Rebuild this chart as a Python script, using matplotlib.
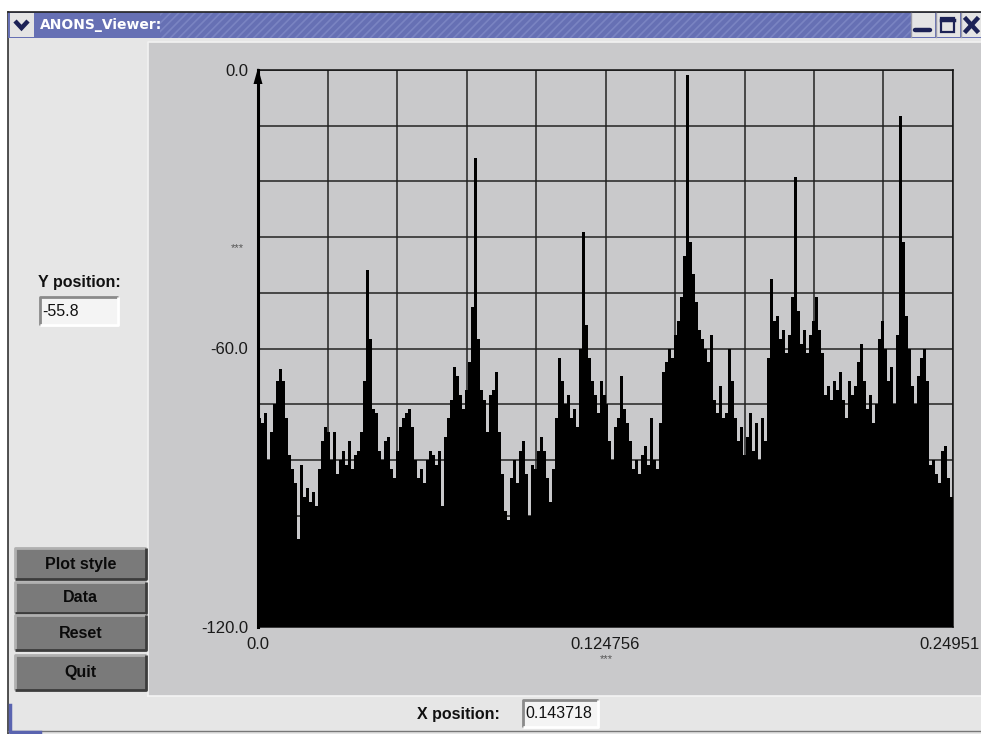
import numpy as np
import matplotlib
matplotlib.use("Agg")
import matplotlib.pyplot as plt
from matplotlib.patches import Rectangle, Polygon

# ---------------- data ----------------
window_title = "ANONS_Viewer:"
x_max = 0.24951
x_tick_labels = ["0.0", "0.124756", "0.24951"]
y_tick_labels = ["0.0", "-60.0", "-120.0"]
y_position_text = "-55.8"
x_position_text = "0.143718"
button_labels = ["Plot style", "Data", "Reset", "Quit"]

# spectrum levels (dB), equally spaced bins from 0 to x_max
levels_db = [
    -75, -76, -74, -84, -78, -72, -67, -64.5, -67, -75,
    -83, -86, -89, -101, -85, -92, -90, -93, -91, -94,
    -86, -80, -77, -78, -84, -78, -87, -84, -82, -85,
    -80, -86, -83, -82, -78, -67, -43, -58, -73, -74,
    -82, -84, -80, -79, -86, -88, -82, -77, -75, -74,
    -73, -77, -84, -88, -86, -89, -84, -82, -83, -85,
    -82, -94, -79, -75, -71, -64, -66, -70, -73, -69,
    -63, -51, -19, -58, -69, -71, -78, -70, -69, -65,
    -78, -87, -95, -97, -88, -84, -89, -82, -80, -87,
    -96, -85, -86, -82, -79, -82, -88, -93, -86, -75,
    -62, -67, -72, -70, -75, -73, -77, -60, -35, -55,
    -62, -67, -70, -74, -67, -70, -72, -80, -84, -77,
    -75, -66, -73, -76, -80, -86, -84, -87, -83, -81,
    -85, -75, -84, -86, -76, -65, -63, -60, -62, -57,
    -54, -49, -40, -1, -37, -44, -50, -56, -58, -60,
    -63, -57, -71, -74, -68, -75, -74, -60, -67, -75,
    -80, -77, -83, -79, -74, -82, -76, -84, -75, -80,
    -62, -45, -54, -53, -58, -56, -61, -57, -49, -23,
    -52, -59, -56, -61, -57, -54, -49, -56, -61, -70,
    -68, -71, -67, -69, -65, -71, -75, -67, -70, -68,
    -63, -59, -67, -73, -70, -76, -72, -58, -54, -60,
    -67, -64, -72, -57, -10, -37, -53, -60, -68, -72,
    -66, -62, -60, -67, -85, -84, -87, -89, -82, -81,
    -88, -92,
]
y_min, y_max = -120.0, 0.0

# ---------------- figure ----------------
W, H = 981, 734
plt.rcParams['font.family'] = ['Liberation Sans', 'DejaVu Sans']
plt.rcParams['hatch.color'] = '#7a84c2'
plt.rcParams['hatch.linewidth'] = 1.2
fig = plt.figure(figsize=(W / 100, H / 100), dpi=100)

bg = fig.add_axes([0, 0, 1, 1])
bg.set_xlim(0, W)
bg.set_ylim(H, 0)
bg.axis('off')

def rect(x, y, w, h, fc, ec='none', lw=0, z=1, **kw):
    r = Rectangle((x, y), w, h, facecolor=fc, edgecolor=ec, linewidth=lw, zorder=z, **kw)
    bg.add_patch(r)
    return r

def bevel(x, y, w, h, light, dark, lw=1.5, z=3, sunken=False):
    a, b = (dark, light) if sunken else (light, dark)
    bg.plot([x, x, x + w], [y + h, y, y], color=a, lw=lw, zorder=z, solid_capstyle='butt')
    bg.plot([x, x + w, x + w], [y + h, y + h, y], color=b, lw=lw, zorder=z, solid_capstyle='butt')

# outer background
rect(0, 0, W, H, '#ffffff', z=0)
# window body
rect(8, 38, W - 8, H - 38, '#e6e6e6', z=1)
bg.plot([8, 8], [12, H], color='#333333', lw=1.2, zorder=2)
bg.plot([8, W], [731, 731], color='#777777', lw=1.0, zorder=2)
# blue corner bits
bg.plot([10, 10, 40], [705, 732, 732], color='#5a64b0', lw=2.5, zorder=3)

# title bar
rect(8, 12, W - 8, 26, '#6670b4', z=2)
rect(160, 12, 752, 26, 'none', ec='#7a84c2', lw=0, z=2, hatch='////')
bg.plot([8, W], [12, 12], color='#222222', lw=1.2, zorder=3)
# menu chevron button
rect(10, 13, 24, 24, '#e4e4e4', z=3)
bg.plot([15, 21.5, 28], [21, 28, 21], color='#1c2256', lw=3.2, zorder=4,
        solid_capstyle='butt', solid_joinstyle='miter')
bg.text(40, 25.5, window_title, color='white', fontsize=10, fontweight='bold',
        va='center', ha='left', zorder=5, family=['DejaVu Sans'])
# right buttons
for bx in (911, 936, 961):
    rect(bx, 13, 24, 24, '#e4e4e4', z=3)
    bg.plot([bx, bx], [13, 37], color='#9a9aa8', lw=1, zorder=4)
bg.plot([915, 930], [30, 30], color='#1c2256', lw=3.2, zorder=4, solid_capstyle='round')
rect(941, 18, 13, 14, 'none', ec='#1c2256', lw=1.6, z=4)
bg.plot([941, 954], [19.5, 19.5], color='#1c2256', lw=2.5, zorder=4)
bg.plot([966, 977], [19, 31], color='#1c2256', lw=3.2, zorder=4)
bg.plot([966, 977], [31, 19], color='#1c2256', lw=3.2, zorder=4)

# plot panel
rect(148, 42, W - 148, 654, '#c9c9cb', z=2)
bg.plot([148, 148, W], [696, 42, 42], color='#f2f2f2', lw=1.2, zorder=3)
bg.plot([148, W], [696, 696], color='#f4f4f4', lw=1.2, zorder=3)

# Y position widgets
bg.text(79, 283, "Y position:", fontsize=11.5, fontweight='bold', ha='center',
        va='center', color='#111111', zorder=5)
rect(40, 297, 78, 28, '#f4f4f4', z=3)
bevel(40, 297, 78, 28, '#ffffff', '#8a8a8a', lw=2, z=4, sunken=True)
bg.text(42, 311, y_position_text, fontsize=11.5, ha='left', va='center',
        color='#111111', zorder=5)

# buttons
btn_rows = [(548, 31), (582, 31), (615, 35), (655, 35)]
for (by, bh), lab in zip(btn_rows, button_labels):
    rect(15, by, 131, bh, '#7a7a7a', z=3)
    bevel(15, by, 131, bh, '#b0b0b0', '#3c3c3c', lw=2, z=4)
    bg.text(80.5, by + bh / 2 + 0.5, lab, fontsize=11.5, fontweight='bold',
            ha='center', va='center', color='#0a0a0a', zorder=5)

# X position widgets
bg.text(458, 714, "X position:", fontsize=11.5, fontweight='bold', ha='center',
        va='center', color='#111111', zorder=5)
xbox = rect(523, 700, 75, 27, '#f4f4f4', z=3)
bevel(523, 700, 75, 27, '#ffffff', '#8a8a8a', lw=2, z=4, sunken=True)
t = bg.text(525, 714, x_position_text, fontsize=11.5, ha='left', va='center',
            color='#111111', zorder=5)
t.set_clip_path(xbox)

# axis titles (placeholder labels)
bg.text(237, 248, "***", fontsize=8, ha='center', va='center', color='#555555', zorder=5)
bg.text(606, 659, "***", fontsize=8, ha='center', va='center', color='#555555', zorder=5)

# ---------------- plot axes ----------------
L, R, T, B = 258, 953, 70, 627
ax = fig.add_axes([L / W, 1 - B / H, (R - L) / W, (B - T) / H])
ax.set_facecolor('#c9c9cb')
n = len(levels_db)
edges = np.linspace(0, x_max, n + 1)
ax.stairs(levels_db, edges, baseline=y_min, fill=True, color='black', zorder=3)
ax.set_xlim(0, x_max)
ax.set_ylim(y_min, y_max)

xt = np.linspace(0, x_max, 11)
yt = np.linspace(y_min, y_max, 11)
ax.set_xticks(xt)
ax.set_yticks(yt)
xl = [''] * 11
xl[0], xl[5] = x_tick_labels[0], x_tick_labels[1]
yl = [''] * 11
yl[10], yl[5], yl[0] = y_tick_labels
ax.set_xticklabels(xl)
ax.set_yticklabels(yl)
ax.tick_params(length=0, labelsize=12, labelcolor='#1a1a1a', pad=7)
# last x tick label sits flush with the window's right edge, as in the reference
ax.annotate(x_tick_labels[2], xy=(x_max, 0), xycoords=('data', 'axes fraction'),
            xytext=(27, -10), textcoords='offset pixels', ha='right', va='top',
            fontsize=12, color='#1a1a1a', annotation_clip=False)
ax.grid(True, color='#222222', lw=1.1)
ax.set_axisbelow(True)
for s in ('top', 'right', 'bottom'):
    ax.spines[s].set_color('#111111')
    ax.spines[s].set_linewidth(1.1)
ax.spines['left'].set_color('black')
ax.spines['left'].set_linewidth(2.2)
ax.spines['left'].set_zorder(5)

bg.set_zorder(0)
ax.set_zorder(1)
# arrowhead on the y axis, drawn in figure space above the axes
fig.patches.append(Polygon([(253.5 / W, 1 - 84 / H), (262.5 / W, 1 - 84 / H), (258 / W, 1 - 68 / H)],
                           closed=True, transform=fig.transFigure, facecolor='black',
                           edgecolor='none', zorder=10))

fig.savefig("out.png", dpi=100)
